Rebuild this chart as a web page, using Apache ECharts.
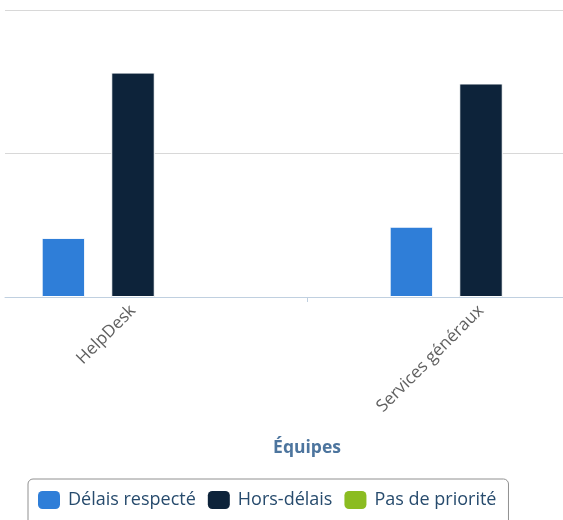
<!DOCTYPE html>
<html>
<head>
<meta charset="utf-8">
<script src="https://cdn.jsdelivr.net/npm/echarts@6/dist/echarts.min.js"></script>
<style>html,body{margin:0;padding:0;background:#fff;}#c{width:563px;height:520px;}</style>
</head>
<body>
<div id="c"></div>
<script>
const categories = ['HelpDesk', 'Services généraux'];
const seriesNames = ['Délais respecté', 'Hors-délais', 'Pas de priorité'];
const delaisRespecte = [20.6, 24.5];
const horsDelais = [78.2, 74.4];
const pasDePriorite = [0, 0];
const yTicks = [0, 50, 100];
const axisTitle = 'Équipes';

const colors = ['#2f7ed8', '#0d233a', '#8bbc21'];
const font = 'Open Sans';
const chart = echarts.init(document.getElementById('c'));
const values = [delaisRespecte, horsDelais, pasDePriorite];
chart.setOption({
  animation: false,
  color: colors,
  grid: [
    { left: 5, right: 0, top: 10, height: 287, outerBoundsMode: 'none', containLabel: false },
    { left: -41, width: 696, top: 10, height: 287, outerBoundsMode: 'none', containLabel: false }
  ],
  xAxis: [
    { gridIndex: 0, type: 'value', min: 0, max: 1, axisLine: { show: true, lineStyle: { color: '#C0D0E0', width: 1 } },
      axisTick: { show: false }, axisLabel: { show: false }, splitLine: { show: false } },
    { gridIndex: 1, type: 'category', data: categories,
      axisLine: { show: false },
      axisTick: { show: true, length: 5, lineStyle: { color: '#C0D0E0' } },
      axisLabel: { rotate: 45, margin: 11, color: '#606060', fontSize: 17, fontFamily: font },
      name: axisTitle, nameLocation: 'middle', nameGap: 142,
      nameTextStyle: { color: '#4d759e', fontWeight: 'bold', fontSize: 17.5, fontFamily: font } }
  ],
  yAxis: [
    { gridIndex: 0, type: 'value', min: yTicks[0], max: yTicks[yTicks.length - 1], interval: yTicks[1] - yTicks[0],
      axisLine: { show: false }, axisTick: { show: false }, axisLabel: { show: false },
      splitLine: { show: true, lineStyle: { color: '#D8D8D8', width: 1 } } },
    { gridIndex: 1, type: 'value', min: yTicks[0], max: yTicks[yTicks.length - 1], interval: yTicks[1] - yTicks[0], show: false,
      splitLine: { show: false } }
  ],
  legend: {
    left: 28, top: 479,
    padding: [12, 12, 20, 10],
    itemWidth: 22, itemHeight: 18, itemGap: 12,
    icon: 'roundRect',
    itemStyle: { borderWidth: 0 },
    borderColor: '#909090', borderWidth: 1, borderRadius: 5,
    textStyle: { color: '#274b6d', fontSize: 18, fontFamily: font, padding: [0, 0, 0, 3] },
    data: seriesNames
  },
  series: seriesNames.map((n, i) => ({
    name: n, type: 'bar', xAxisIndex: 1, yAxisIndex: 1,
    data: values[i], barWidth: 43.5, barGap: '60%',
    itemStyle: { borderColor: '#ffffff', borderWidth: values[i].some(v => v > 0) ? 1 : 0 }
  }))
});
</script>
</body>
</html>
